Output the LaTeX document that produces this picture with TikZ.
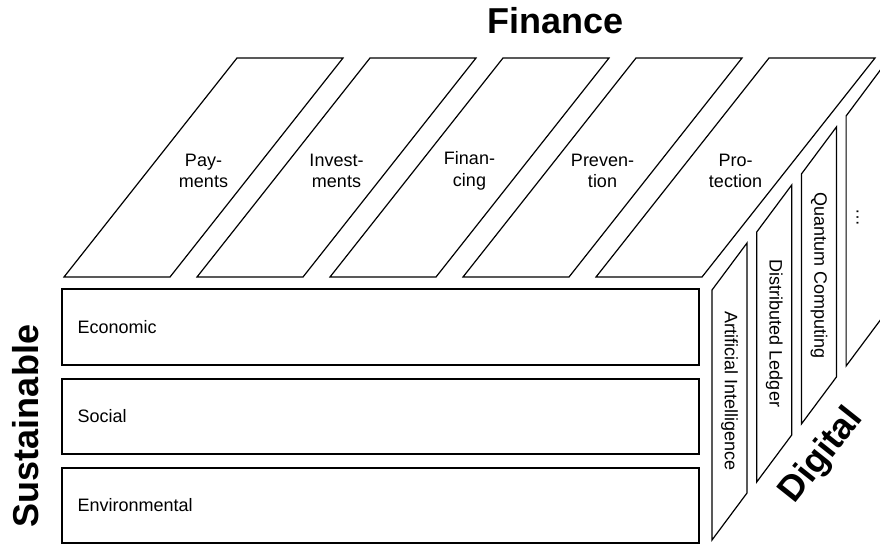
\documentclass[tikz,border=0pt]{standalone}
\usepackage{fontspec}
\setmainfont{Liberation Sans}
\begin{document}
\begin{tikzpicture}[x=1pt, y=-1pt, line width=1.2pt,
  lbl/.style={font=\fontsize{18}{21.6}\selectfont, align=center, inner sep=0pt},
  title/.style={font=\fontsize{36}{40}\selectfont\bfseries, inner sep=0pt},
  rowbox/.style={draw, minimum width=637pt, anchor=north west, outer sep=0pt, inner sep=0pt}]
\useasboundingbox (0,0) rectangle (880,546);

% Finance: slanted slabs on top
\foreach \i/\txt/\nm in {0/{Pay-\\ments}/pay, 1/{Invest-\\ments}/inv, 2/{Finan-\\cing}/fcg, 3/{Preven-\\tion}/prv, 4/{Pro-\\tection}/prt}{
  \pgfmathsetmacro\xb{64+133*\i}
  \draw (\xb,277) -- ++(106,0) -- ++(173,-219) -- ++(-106,0) -- cycle;
  \node[lbl] (\nm) at (\xb+139.5,171) {\txt};
}

% Sustainable: front rows
\node[rowbox, minimum height=76pt] (eco) at (62,289) {};
\node[rowbox, minimum height=75pt] (soc) at (62,379) {};
\node[rowbox, minimum height=75pt] (env) at (62,468) {};
\node[lbl, anchor=west] (ecot) at ([xshift=15pt]eco.west) {Economic};
\node[lbl, anchor=west] (soct) at ([xshift=15pt]soc.west) {Social};
\node[lbl, anchor=west] (envt) at ([xshift=15pt]env.west) {Environmental};

% Digital: side strips
\foreach \i in {0,...,3}{
  \pgfmathsetmacro\xl{712+44.7*\i}
  \pgfmathsetmacro\yt{290-58*\i}
  \draw (\xl,\yt) -- ++(35,-47) -- ++(0,250) -- ++(-35,47) -- cycle;
  \coordinate (strip\i) at (\xl+17.5,\yt+101.5);
}
\node[lbl, rotate=-90] (ai) at (strip0) {Artificial Intelligence};
\node[lbl, rotate=-90] (dl) at (strip1) {Distributed Ledger};
\node[lbl, rotate=-90] (qc) at (strip2) {Quantum Computing};
\node[lbl, rotate=-90] (more) at ([xshift=-6pt]strip3) {…};

% axis titles
\node[title, anchor=base] (fin) at (555.5,33) {Finance};
\node[title, anchor=base, rotate=90] (sus) at (38,426) {Sustainable};
\node[title, rotate=51.5] (dig) at (822,456) {Digital};
\end{tikzpicture}
\end{document}
